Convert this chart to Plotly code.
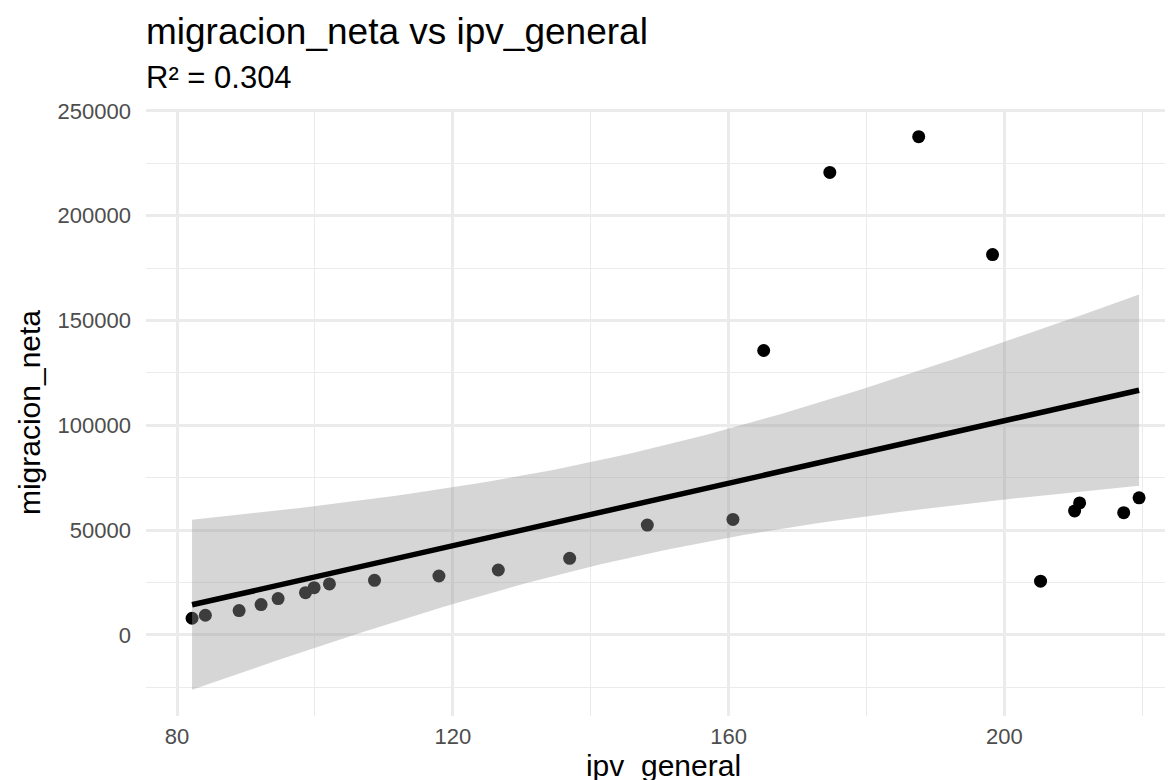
import numpy as np
import plotly.graph_objects as go

# ---- data ----
ipv_general = [82.18, 84.11, 89.0, 92.19, 94.66, 98.63, 99.88, 102.1, 108.64, 117.98,
               126.59, 136.94, 148.2, 160.62, 165.08, 174.67, 187.56, 198.27, 205.23,
               210.17, 210.9, 217.29, 219.52]
migracion_neta = [7940, 9370, 11590, 14440, 17300, 20160, 22540, 24290, 26030, 28100,
                  30950, 36510, 52380, 55100, 135680, 220660, 237720, 181440, 25640,
                  59130, 62980, 58330, 65380]

x_tick_vals = [80, 120, 160, 200]
x_tick_text = ["80", "120", "160", "200"]
x_minor_vals = [100, 140, 180, 220]
y_tick_vals = [0, 50000, 100000, 150000, 200000, 250000]
y_tick_text = ["0", "50000", "100000", "150000", "200000", "250000"]
y_minor_vals = [-25000, 25000, 75000, 125000, 175000, 225000]

title_text = "migracion_neta vs ipv_general"
subtitle_text = "R² = 0.304"
x_title = "ipv_general"
y_title = "migracion_neta"

# ---- linear fit with 95% confidence band (like geom_smooth(method="lm")) ----
x = np.array(ipv_general, dtype=float)
y = np.array(migracion_neta, dtype=float)
n = len(x)
slope, intercept = np.polyfit(x, y, 1)
resid = y - (intercept + slope * x)
s = np.sqrt(np.sum(resid ** 2) / (n - 2))
sxx = np.sum((x - x.mean()) ** 2)
T_CRIT = 2.0796  # t quantile 0.975, df = 21
xs = np.linspace(x.min(), x.max(), 80)
fit = intercept + slope * xs
se = s * np.sqrt(1.0 / n + (xs - x.mean()) ** 2 / sxx)
upper = fit + T_CRIT * se
lower = fit - T_CRIT * se

FONT = "Liberation Sans, Arial, sans-serif"

fig = go.Figure()
fig.add_trace(go.Scatter(
    x=ipv_general, y=migracion_neta, mode="markers",
    marker=dict(color="black", size=13, line=dict(width=0)),
    showlegend=False, hoverinfo="x+y"))
fig.add_trace(go.Scatter(
    x=np.concatenate([xs, xs[::-1]]), y=np.concatenate([upper, lower[::-1]]),
    mode="lines", fill="toself", fillcolor="rgba(153,153,153,0.4)",
    line=dict(width=0, color="rgba(0,0,0,0)"), showlegend=False, hoverinfo="skip"))
fig.add_trace(go.Scatter(
    x=xs, y=fit, mode="lines", line=dict(color="black", width=5.5),
    showlegend=False, hoverinfo="skip"))

grid_major = dict(showgrid=True, gridcolor="#ebebeb", gridwidth=2.6)

fig.update_layout(
    width=1173, height=780,
    margin=dict(l=138, r=0, t=101, b=72),
    paper_bgcolor="white", plot_bgcolor="white",
    font=dict(family=FONT, color="black"),
    showlegend=False,
    xaxis=dict(
        range=[75.5, 225.6], tickvals=x_tick_vals, ticktext=x_tick_text,
        tickfont=dict(size=22, color="#4d4d4d", family=FONT),
        ticks="", zeroline=False, showline=False, ticklabelstandoff=5,
        minor=dict(tickvals=x_minor_vals, showgrid=True, gridcolor="#ebebeb", gridwidth=1.3, ticks=""),
        title=dict(text=x_title, font=dict(size=30, color="black", family=FONT), standoff=0),
        **grid_major),
    yaxis=dict(
        range=[-38700, 250900], tickvals=y_tick_vals, ticktext=y_tick_text,
        tickfont=dict(size=22, color="#4d4d4d", family=FONT),
        ticks="", zeroline=False, showline=False, ticklabelstandoff=14,
        minor=dict(tickvals=y_minor_vals, showgrid=True, gridcolor="#ebebeb", gridwidth=1.3, ticks=""),
        title=dict(text=y_title, font=dict(size=30, color="black", family=FONT), standoff=8),
        **grid_major),
    annotations=[
        dict(text=title_text, xref="paper", yref="paper", x=0, y=(708 - 24) / 607,
             xanchor="left", yanchor="middle", showarrow=False, xshift=-2,
             font=dict(size=37, color="black", family=FONT)),
        dict(text=subtitle_text, xref="paper", yref="paper", x=0, y=(708 - 69) / 607,
             xanchor="left", yanchor="middle", showarrow=False, xshift=-2,
             font=dict(size=31, color="black", family=FONT)),
    ],
)

fig.write_html("out.html")
